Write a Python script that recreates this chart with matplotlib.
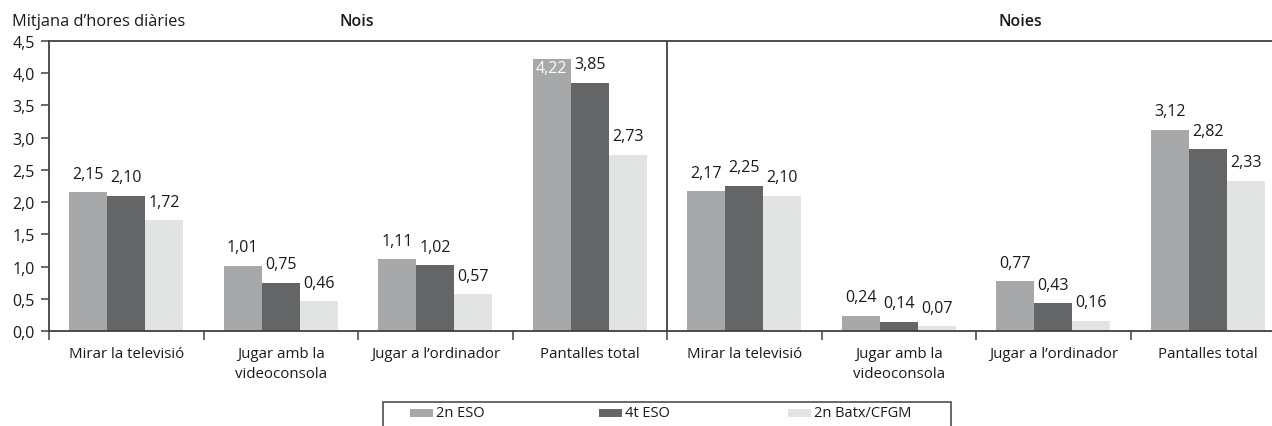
import matplotlib
matplotlib.use('Agg')
import matplotlib.pyplot as plt
from matplotlib.patches import Rectangle
from matplotlib.ticker import FixedLocator, FuncFormatter, NullFormatter
import numpy as np

plt.rcParams['font.family'] = ['Open Sans', 'DejaVu Sans']

# Hours per day, boys (Nois) and girls (Noies), by school year
categories = ['Mirar la televisió', 'Jugar amb la\nvideoconsola',
              'Jugar a l’ordinador', 'Pantalles total']
groups = ['Nois', 'Noies']
series = ['2n ESO', '4t ESO', '2n Batx/CFGM']

nois_2n_eso = [2.15, 1.01, 1.11, 4.22]
nois_4t_eso = [2.10, 0.75, 1.02, 3.85]
nois_batx = [1.72, 0.46, 0.57, 2.73]

noies_2n_eso = [2.17, 0.24, 0.77, 3.12]
noies_4t_eso = [2.25, 0.14, 0.43, 2.82]
noies_batx = [2.10, 0.07, 0.16, 2.33]

yticks = [0.0, 0.5, 1.0, 1.5, 2.0, 2.5, 3.0, 3.5, 4.0, 4.5]

colors = ['#a7a8aa', '#646567', '#e2e3e3']
line_color = '#404040'
text_color = '#1a1a1a'
W, H = 1272, 427


def comma(v, pos=None):
    return f'{v:.2f}'.replace('.', ',') if pos is None else f'{v:.1f}'.replace('.', ',')


values = [np.array(nois_2n_eso + noies_2n_eso),
          np.array(nois_4t_eso + noies_4t_eso),
          np.array(nois_batx + noies_batx)]
labels = categories * 2
x = np.arange(len(labels))
width = 0.246

fig = plt.figure(figsize=(W / 100, H / 100), dpi=100)
ax = fig.add_axes([49 / W, 95 / H, 1236 / W, 290 / H])

for i, (vals, col) in enumerate(zip(values, colors)):
    bars = ax.bar(x + (i - 1) * width, vals, width, color=col, zorder=2)
    for bar in bars:
        h = bar.get_height()
        cx = bar.get_x() + bar.get_width() / 2
        if h > 4.1:
            # no room above the axis top: write it inside the bar
            ax.annotate(comma(h), xy=(cx, h), xytext=(0, -1),
                        textcoords='offset points', ha='center', va='top',
                        fontsize=11.5, color='white', zorder=3)
        else:
            ax.annotate(comma(h), xy=(cx, h), xytext=(0, 10.5),
                        textcoords='offset points', ha='center', va='baseline',
                        fontsize=11.5, color=text_color, zorder=3)

ax.set_xlim(-0.5, len(labels) - 0.5)
ax.set_ylim(0, 4.5)
ax.set_yticks(yticks)
ax.yaxis.set_major_formatter(FuncFormatter(lambda v, p: comma(v, p)))

# boundary ticks between categories, labels in the middle
ax.xaxis.set_major_locator(FixedLocator(np.arange(-0.5, len(labels), 1.0)))
ax.xaxis.set_major_formatter(NullFormatter())
ax.xaxis.set_minor_locator(FixedLocator(x))
ax.set_xticklabels(labels, minor=True, fontsize=10.8, linespacing=1.4)
ax.tick_params(axis='x', which='minor', length=0, pad=11, colors=text_color)
ax.tick_params(axis='x', which='major', length=6.5, width=1.1, color=line_color)
ax.tick_params(axis='y', length=6, width=1.1, color=line_color, pad=4,
               labelsize=11.5, labelcolor=text_color)

for side in ['left', 'bottom', 'top', 'right']:
    ax.spines[side].set_color(line_color)
    ax.spines[side].set_linewidth(1.3)

# divider between the two groups
ax.axvline(3.5, color=line_color, linewidth=1.3, zorder=4)

fig.text(12 / W, 1 - 22 / H, 'Mitjana d’hores diàries', fontsize=11.8,
         ha='left', va='center', color=text_color)
fig.text(357 / W, 1 - 22 / H, groups[0], fontsize=11.5, fontweight='semibold',
         ha='center', va='center', color=text_color)
fig.text(1020 / W, 1 - 22 / H, groups[1], fontsize=11.5, fontweight='semibold',
         ha='center', va='center', color=text_color)

# legend box along the bottom edge
fig.patches.append(Rectangle((383 / W, -20 / H), (951 - 383) / W, (20 + 24) / H,
                             transform=fig.transFigure, facecolor='white',
                             edgecolor=line_color, linewidth=1.1))
for k, (name, col) in enumerate(zip(series, colors)):
    x0 = 410 + k * 189
    fig.patches.append(Rectangle((x0 / W, (427 - 418) / H), 23 / W, 8 / H,
                                 transform=fig.transFigure, facecolor=col,
                                 edgecolor='none'))
    fig.text((x0 + 26) / W, (427 - 414) / H, name, fontsize=10.5,
             ha='left', va='center', color=text_color)

fig.savefig('out.png', dpi=100)
